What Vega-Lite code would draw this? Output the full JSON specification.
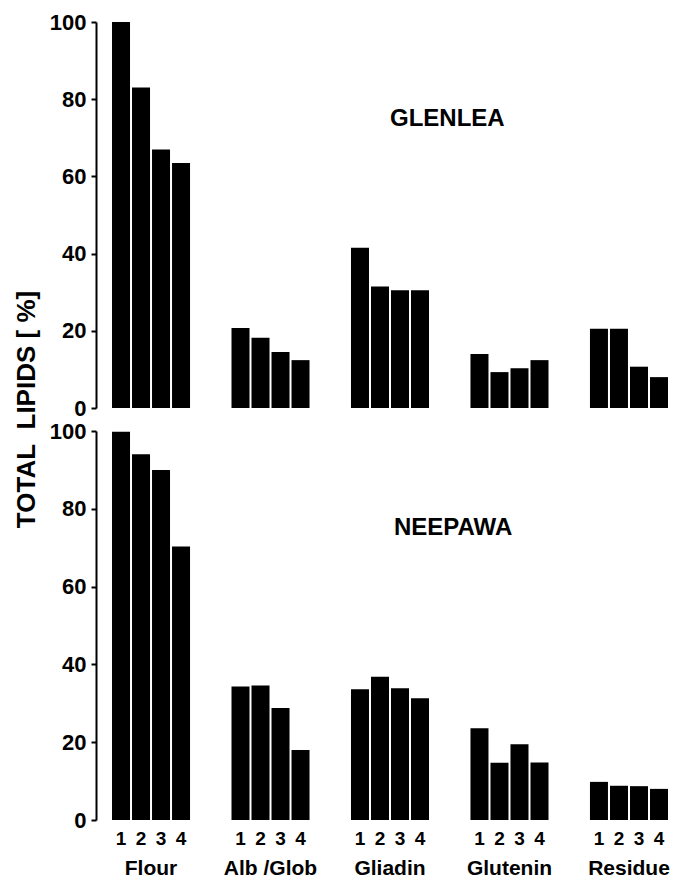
{
  "$schema": "https://vega.github.io/schema/vega-lite/v6.json",
  "padding": {"left": 13, "top": 11, "right": 0, "bottom": 0},
  "background": "white",
  "data": {
    "values": [
      {"variety": "GLENLEA", "fraction": "Flour", "rep": "1", "value": 100},
      {"variety": "GLENLEA", "fraction": "Flour", "rep": "2", "value": 83},
      {"variety": "GLENLEA", "fraction": "Flour", "rep": "3", "value": 67},
      {"variety": "GLENLEA", "fraction": "Flour", "rep": "4", "value": 63.5},
      {"variety": "GLENLEA", "fraction": "Alb /Glob", "rep": "1", "value": 20.7},
      {"variety": "GLENLEA", "fraction": "Alb /Glob", "rep": "2", "value": 18.2},
      {"variety": "GLENLEA", "fraction": "Alb /Glob", "rep": "3", "value": 14.5},
      {"variety": "GLENLEA", "fraction": "Alb /Glob", "rep": "4", "value": 12.4},
      {"variety": "GLENLEA", "fraction": "Gliadin", "rep": "1", "value": 41.5},
      {"variety": "GLENLEA", "fraction": "Gliadin", "rep": "2", "value": 31.5},
      {"variety": "GLENLEA", "fraction": "Gliadin", "rep": "3", "value": 30.5},
      {"variety": "GLENLEA", "fraction": "Gliadin", "rep": "4", "value": 30.5},
      {"variety": "GLENLEA", "fraction": "Glutenin", "rep": "1", "value": 14},
      {"variety": "GLENLEA", "fraction": "Glutenin", "rep": "2", "value": 9.3},
      {"variety": "GLENLEA", "fraction": "Glutenin", "rep": "3", "value": 10.3},
      {"variety": "GLENLEA", "fraction": "Glutenin", "rep": "4", "value": 12.4},
      {"variety": "GLENLEA", "fraction": "Residue", "rep": "1", "value": 20.5},
      {"variety": "GLENLEA", "fraction": "Residue", "rep": "2", "value": 20.5},
      {"variety": "GLENLEA", "fraction": "Residue", "rep": "3", "value": 10.7},
      {"variety": "GLENLEA", "fraction": "Residue", "rep": "4", "value": 8},
      {"variety": "NEEPAWA", "fraction": "Flour", "rep": "1", "value": 99.8},
      {"variety": "NEEPAWA", "fraction": "Flour", "rep": "2", "value": 94},
      {"variety": "NEEPAWA", "fraction": "Flour", "rep": "3", "value": 90},
      {"variety": "NEEPAWA", "fraction": "Flour", "rep": "4", "value": 70.3},
      {"variety": "NEEPAWA", "fraction": "Alb /Glob", "rep": "1", "value": 34.3},
      {"variety": "NEEPAWA", "fraction": "Alb /Glob", "rep": "2", "value": 34.6},
      {"variety": "NEEPAWA", "fraction": "Alb /Glob", "rep": "3", "value": 28.8},
      {"variety": "NEEPAWA", "fraction": "Alb /Glob", "rep": "4", "value": 18},
      {"variety": "NEEPAWA", "fraction": "Gliadin", "rep": "1", "value": 33.6},
      {"variety": "NEEPAWA", "fraction": "Gliadin", "rep": "2", "value": 36.8},
      {"variety": "NEEPAWA", "fraction": "Gliadin", "rep": "3", "value": 33.9},
      {"variety": "NEEPAWA", "fraction": "Gliadin", "rep": "4", "value": 31.3},
      {"variety": "NEEPAWA", "fraction": "Glutenin", "rep": "1", "value": 23.6},
      {"variety": "NEEPAWA", "fraction": "Glutenin", "rep": "2", "value": 14.7},
      {"variety": "NEEPAWA", "fraction": "Glutenin", "rep": "3", "value": 19.5},
      {"variety": "NEEPAWA", "fraction": "Glutenin", "rep": "4", "value": 14.8},
      {"variety": "NEEPAWA", "fraction": "Residue", "rep": "1", "value": 9.8},
      {"variety": "NEEPAWA", "fraction": "Residue", "rep": "2", "value": 8.8},
      {"variety": "NEEPAWA", "fraction": "Residue", "rep": "3", "value": 8.7},
      {"variety": "NEEPAWA", "fraction": "Residue", "rep": "4", "value": 8}
    ]
  },
  "bounds": "flush",
  "spacing": 23,
  "vconcat": [
    {
      "width": 588,
      "height": 386,
      "transform": [{"filter": "datum.variety === 'GLENLEA'"}],
      "encoding": {
        "x": {
          "field": "fraction", "type": "nominal",
          "sort": ["Flour", "Alb /Glob", "Gliadin", "Glutenin", "Residue"],
          "scale": {"paddingInner": 0.347, "paddingOuter": 0.134},
          "axis": null
        }
      },
      "layer": [
        {
          "mark": {"type": "bar", "color": "black"},
          "encoding": {
            "xOffset": {"field": "rep", "type": "nominal", "scale": {"paddingInner": 0.1}},
            "y": {
              "field": "value", "type": "quantitative",
              "scale": {"domain": [0, 100], "nice": false},
              "axis": {
                "title": "TOTAL\u00a0\u00a0LIPIDS\u00a0[\u00a0%]", "values": [0, 20, 40, 60, 80, 100],
                "titleY": 387, "titlePadding": 10, "titleFontSize": 26,
                "domain": true, "ticks": true, "domainColor": "#000000", "tickColor": "#000000",
                "domainOpacity": 1, "tickOpacity": 1, "domainWidth": 2, "tickWidth": 2
              }
            }
          }
        },
        {
          "mark": {"type": "rule", "color": "black", "strokeWidth": 2},
          "encoding": {"y": {"datum": 0}}
        },
        {
          "transform": [{"filter": "datum.fraction === 'Gliadin' && datum.rep === '1'"}],
          "mark": {"type": "text", "fontSize": 24, "fontWeight": "bold", "font": "Liberation Sans", "align": "left", "baseline": "middle", "color": "black"},
          "encoding": {
            "y": {"datum": 75},
            "text": {"field": "variety"}
          }
        }
      ]
    },
    {
      "width": 588,
      "height": 389,
      "transform": [{"filter": "datum.variety === 'NEEPAWA'"}],
      "encoding": {
        "x": {
          "field": "fraction", "type": "nominal",
          "sort": ["Flour", "Alb /Glob", "Gliadin", "Glutenin", "Residue"],
          "scale": {"paddingInner": 0.347, "paddingOuter": 0.134},
          "axis": {"title": null, "ticks": false, "domain": false, "labelAngle": 0, "labelPadding": 37, "labelFontSize": 21}
        }
      },
      "layer": [
        {
          "mark": {"type": "bar", "color": "black"},
          "encoding": {
            "xOffset": {"field": "rep", "type": "nominal", "scale": {"paddingInner": 0.1}},
            "y": {
              "field": "value", "type": "quantitative",
              "scale": {"domain": [0, 100], "nice": false},
              "axis": {
                "title": null, "values": [0, 20, 40, 60, 80, 100],
                "domain": true, "ticks": true, "domainColor": "#000000", "tickColor": "#000000",
                "domainOpacity": 1, "tickOpacity": 1, "domainWidth": 2, "tickWidth": 2
              }
            }
          }
        },
        {
          "mark": {"type": "rule", "color": "black", "strokeWidth": 2},
          "encoding": {"y": {"datum": 0}}
        },
        {
          "mark": {"type": "text", "fontSize": 19, "fontWeight": "bold", "font": "Liberation Sans", "baseline": "middle", "color": "black"},
          "encoding": {
            "xOffset": {"field": "rep", "type": "nominal", "scale": {"paddingInner": 0.1}},
            "y": {"datum": -5},
            "text": {"field": "rep"}
          }
        },
        {
          "transform": [{"filter": "datum.fraction === 'Gliadin' && datum.rep === '1'"}],
          "mark": {"type": "text", "fontSize": 24, "fontWeight": "bold", "font": "Liberation Sans", "align": "left", "baseline": "middle", "color": "black", "dx": 4},
          "encoding": {
            "y": {"datum": 75},
            "text": {"field": "variety"}
          }
        }
      ]
    }
  ],
  "config": {
    "view": {"stroke": null},
    "axis": {
      "labelFont": "Liberation Sans", "labelFontWeight": "bold", "labelColor": "black",
      "titleFont": "Liberation Sans", "titleFontWeight": "bold", "titleColor": "black"
    },
    "axisY": {"grid": false, "tickSize": 5, "labelFontSize": 22, "labelPadding": 5}
  }
}
